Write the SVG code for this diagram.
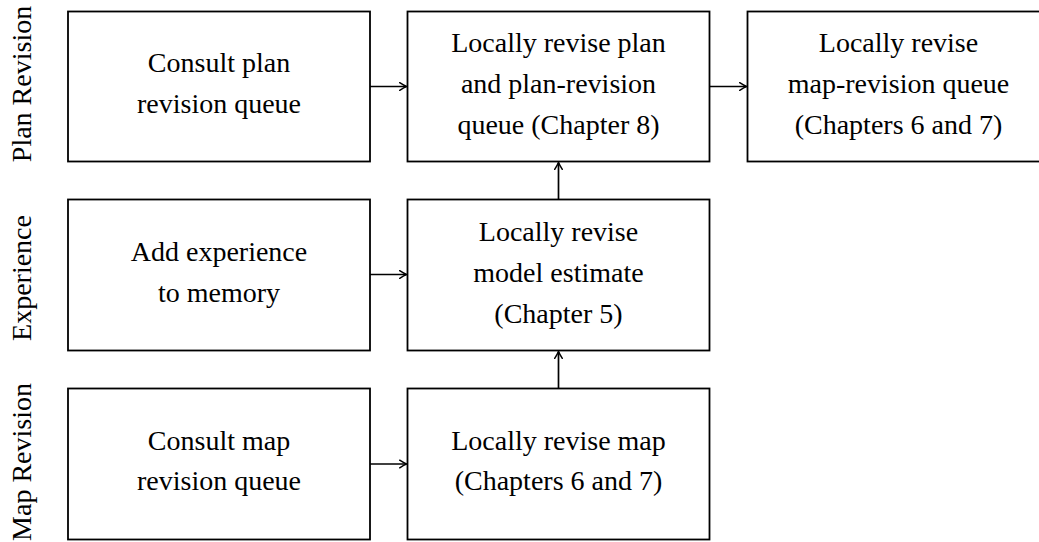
<svg xmlns="http://www.w3.org/2000/svg" width="1039" height="542" viewBox="0 0 1039 542">
  <style>
    .box { fill: #ffffff; stroke: #000000; stroke-width: 1.8; }
    .lbl { font-family: "Liberation Serif", "DejaVu Serif", serif; font-size: 28px; fill: #000000; text-anchor: middle; }
    .edge { fill: none; stroke: #000000; stroke-width: 1.7; marker-end: url(#tip); }
  </style>
  <defs>
    <marker id="tip" viewBox="-8 -5 10 10" refX="0" refY="0" markerWidth="10" markerHeight="10" markerUnits="userSpaceOnUse" orient="auto">
      <path d="M -6.8 -3.8 Q -2.3 -0.9 0 0 Q -2.3 0.9 -6.8 3.8" fill="none" stroke="#000000" stroke-width="1.5" stroke-linecap="round" stroke-linejoin="round"/>
    </marker>
  </defs>

  <rect width="1039" height="542" fill="#ffffff"/>

  <!-- lane titles -->
  <g id="lanes">
    <text class="lbl" transform="translate(31 84) rotate(-90)">Plan Revision</text>
    <text class="lbl" transform="translate(31 278) rotate(-90)">Experience</text>
    <text class="lbl" transform="translate(31 462) rotate(-90)">Map Revision</text>
  </g>

  <!-- row 1: plan revision -->
  <g id="consult-plan">
    <rect class="box" x="68" y="11.5" width="302" height="150"/>
    <text class="lbl" x="219" y="72">Consult plan</text>
    <text class="lbl" x="219" y="112.7">revision queue</text>
  </g>
  <g id="revise-plan">
    <rect class="box" x="407.5" y="11.5" width="302" height="150"/>
    <text class="lbl" x="558.5" y="52">Locally revise plan</text>
    <text class="lbl" x="558.5" y="93">and plan-revision</text>
    <text class="lbl" x="558.5" y="134">queue (Chapter 8)</text>
  </g>
  <g id="revise-map-queue">
    <rect class="box" x="747.5" y="11.5" width="302" height="150"/>
    <text class="lbl" x="898.5" y="52">Locally revise</text>
    <text class="lbl" x="898.5" y="93">map-revision queue</text>
    <text class="lbl" x="898.5" y="134">(Chapters 6 and 7)</text>
  </g>

  <!-- row 2: experience -->
  <g id="add-experience">
    <rect class="box" x="68" y="199.5" width="302" height="151"/>
    <text class="lbl" x="219" y="260.5">Add experience</text>
    <text class="lbl" x="219" y="301.5">to memory</text>
  </g>
  <g id="revise-model">
    <rect class="box" x="407.5" y="199.5" width="302" height="151"/>
    <text class="lbl" x="558.5" y="240.5">Locally revise</text>
    <text class="lbl" x="558.5" y="281.5">model estimate</text>
    <text class="lbl" x="558.5" y="322.5">(Chapter 5)</text>
  </g>

  <!-- row 3: map revision -->
  <g id="consult-map">
    <rect class="box" x="68" y="388.5" width="302" height="151"/>
    <text class="lbl" x="219" y="449.5">Consult map</text>
    <text class="lbl" x="219" y="490.2">revision queue</text>
  </g>
  <g id="revise-map">
    <rect class="box" x="407.5" y="388.5" width="302" height="151"/>
    <text class="lbl" x="558.5" y="449.5">Locally revise map</text>
    <text class="lbl" x="558.5" y="490.2">(Chapters 6 and 7)</text>
  </g>

  <!-- connectors -->
  <g id="connectors">
    <line class="edge" x1="370" y1="86.5" x2="406.5" y2="86.5"/>
    <line class="edge" x1="709.5" y1="86.5" x2="746.5" y2="86.5"/>
    <line class="edge" x1="370" y1="274.5" x2="406.5" y2="274.5"/>
    <line class="edge" x1="370" y1="464" x2="406.5" y2="464"/>
    <line class="edge" x1="558.5" y1="199.5" x2="558.5" y2="162.5"/>
    <line class="edge" x1="558.5" y1="388.5" x2="558.5" y2="351.5"/>
  </g>
</svg>
